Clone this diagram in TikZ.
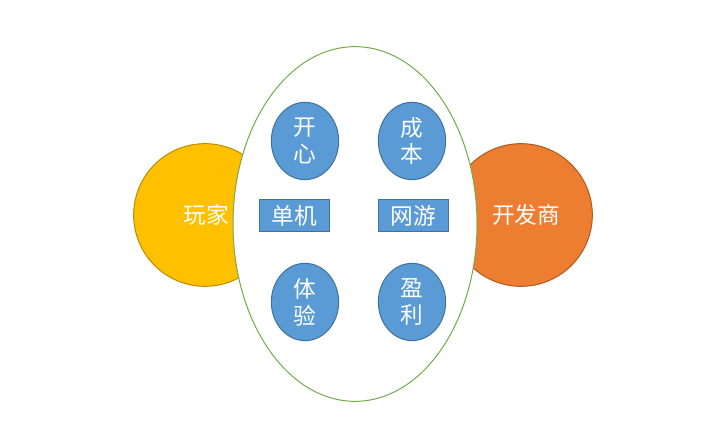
\documentclass[tikz,border=0pt]{standalone}
\usepackage{fontspec}
\newfontfamily\cjk{Noto Sans CJK SC}
\usetikzlibrary{shapes.geometric}
\definecolor{cyellow}{HTML}{FFC000}
\definecolor{cyellowb}{HTML}{BC8C00}
\definecolor{corange}{HTML}{ED7D31}
\definecolor{coranb}{HTML}{AE5A21}
\definecolor{cblue}{HTML}{5B9BD5}
\definecolor{cblueb}{HTML}{41719C}
\definecolor{cgreen}{HTML}{70AD47}
\tikzset{
  lbl/.style={text=white, font=\cjk\fontsize{17}{20}\selectfont, align=center, inner sep=0pt},
  bigcirc/.style={circle, minimum size=107pt, line width=0.75pt, lbl},
  smallell/.style={ellipse, minimum width=50.5pt, minimum height=58pt, fill=cblue, draw=cblueb, line width=0.75pt, lbl},
  tagbox/.style={rectangle, minimum width=52.5pt, minimum height=24pt, fill=cblue, draw=cblueb, line width=0.75pt, lbl},
}
\begin{document}
\begin{tikzpicture}[x=0.75pt, y=-0.75pt]
\useasboundingbox (0,0) rectangle (715,445);
\node[bigcirc, fill=cyellow, draw=cyellowb] (player) at (205,215) {};
\node[bigcirc, fill=corange, draw=coranb] (dev) at (521,215) {};
\node[ellipse, minimum width=183pt, minimum height=266pt, fill=white, draw=cgreen, line width=0.75pt, inner sep=0pt] (core) at (355,224) {};
\node[lbl] (playerlbl) at (206,215) {玩家};
\node[lbl] (devlbl) at (526,215) {开发商};
\node[smallell] (happy) at (305,141) {开\\心};
\node[smallell] (cost) at (412,141) {成\\本};
\node[smallell] (exp) at (305,302) {体\\验};
\node[smallell] (profit) at (412,302) {盈\\利};
\node[tagbox] (single) at (294,216) {单机};
\node[tagbox] (online) at (413.5,216) {网游};
\end{tikzpicture}
\end{document}
